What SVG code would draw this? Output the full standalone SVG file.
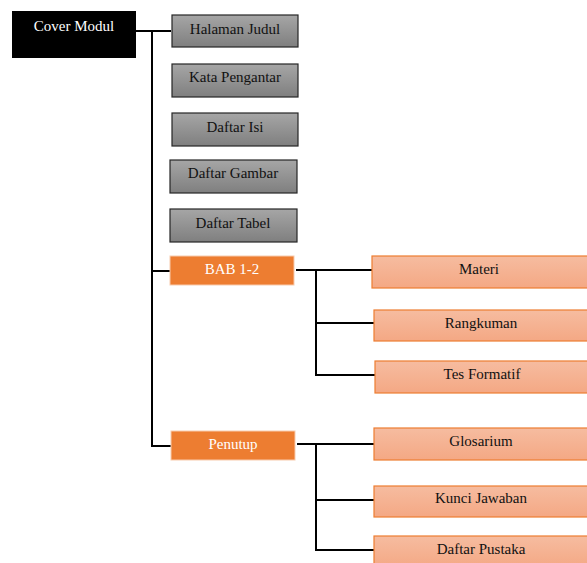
<svg xmlns="http://www.w3.org/2000/svg" width="587" height="563" viewBox="0 0 587 563" font-family="'Liberation Serif', 'DejaVu Serif', serif">
<defs>
<linearGradient id="gGray" x1="0" y1="0" x2="0" y2="1">
<stop offset="0" stop-color="#a6a6a6"/><stop offset="1" stop-color="#7f7f7f"/>
</linearGradient>
<linearGradient id="gPeach" x1="0" y1="0" x2="0" y2="1">
<stop offset="0" stop-color="#f6bca0"/><stop offset="1" stop-color="#f4a884"/>
</linearGradient>
</defs>
<style>
text{font-family:'Liberation Serif','DejaVu Serif',serif;font-size:15px;text-anchor:middle}
.gray{fill:url(#gGray);stroke:#262626;stroke-width:1.2}
.peach{fill:url(#gPeach);stroke:#ed7d31;stroke-width:1.2}
.orange{fill:#ed7d31;stroke:#f8cbad;stroke-width:1}
.dark{fill:#111}
.light{fill:#fff}
#connectors path{fill:none;stroke:#000;stroke-width:2}
</style>
<g id="connectors">
<path d="M136 31H171"/>
<path d="M152 31V446H171"/>
<path d="M152 271H170"/>
<path d="M296 270H372"/>
<path d="M316 270V375H375"/>
<path d="M316 323H374"/>
<path d="M297 444H374"/>
<path d="M316 444V550H374"/>
<path d="M316 500H374"/>
</g>
<g id="cover"><rect x="12" y="11" width="124" height="47" fill="#000"/><text x="74" y="31" class="light">Cover Modul</text></g>
<g id="halaman"><rect x="172" y="15" width="126" height="32" class="gray"/><text x="235" y="34" class="dark">Halaman Judul</text></g>
<g id="kata"><rect x="172" y="64" width="126" height="33" class="gray"/><text x="235" y="82" class="dark">Kata Pengantar</text></g>
<g id="isi"><rect x="172" y="113" width="126" height="33" class="gray"/><text x="235" y="132" class="dark">Daftar Isi</text></g>
<g id="gambar"><rect x="170" y="160" width="127" height="33" class="gray"/><text x="233" y="178" class="dark">Daftar Gambar</text></g>
<g id="tabel"><rect x="170" y="209" width="127" height="33" class="gray"/><text x="233" y="228" class="dark">Daftar Tabel</text></g>
<g id="bab"><rect x="170" y="256" width="124" height="29" class="orange"/><text x="232" y="274" class="light">BAB 1-2</text></g>
<g id="materi"><rect x="372" y="256" width="220" height="32" class="peach"/><text x="479" y="274" class="dark">Materi</text></g>
<g id="rangkuman"><rect x="374" y="310" width="220" height="31" class="peach"/><text x="481" y="328" class="dark">Rangkuman</text></g>
<g id="tes"><rect x="375" y="361" width="220" height="32" class="peach"/><text x="482" y="379" class="dark">Tes Formatif</text></g>
<g id="penutup"><rect x="171" y="431" width="124" height="29" class="orange"/><text x="233" y="449" class="light">Penutup</text></g>
<g id="glosarium"><rect x="374" y="428" width="220" height="32" class="peach"/><text x="481" y="446" class="dark">Glosarium</text></g>
<g id="kunci"><rect x="374" y="486" width="220" height="31" class="peach"/><text x="481" y="503" class="dark">Kunci Jawaban</text></g>
<g id="pustaka"><rect x="374" y="536" width="220" height="32" class="peach"/><text x="481" y="554" class="dark">Daftar Pustaka</text></g>
</svg>
